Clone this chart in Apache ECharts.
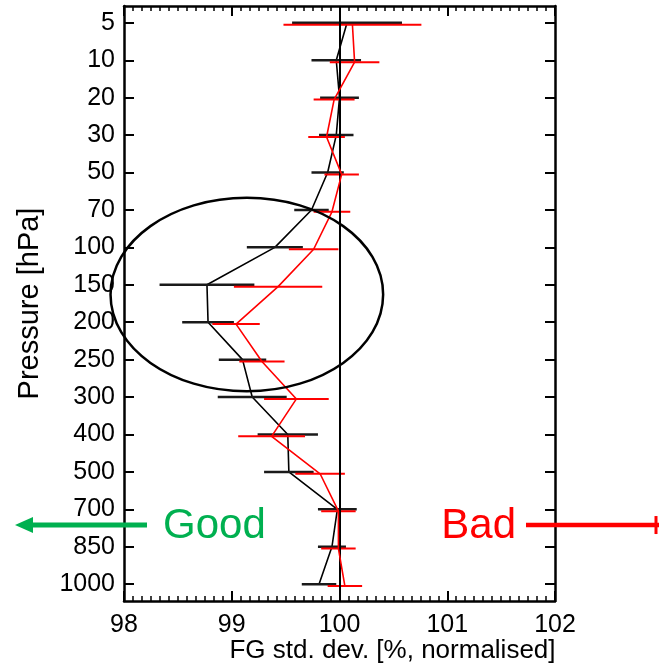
<!DOCTYPE html>
<html><head><meta charset="utf-8">
<script src="https://cdn.jsdelivr.net/npm/echarts@6/dist/echarts.min.js"></script>
<style>html,body{margin:0;padding:0;background:#fff}#c{width:659px;height:667px}</style>
</head><body><div id="c"></div>
<script>
// ---- data ----
const levels = ['5','10','20','30','50','70','100','150','200','250','300','400','500','700','850','1000'];
const blackMean = [100.07, 99.97, 100.00, 99.97, 99.89, 99.74, 99.40, 98.77, 98.78, 99.10, 99.19, 99.52, 99.53, 99.98, 99.93, 99.81];
const blackErr  = [0.51, 0.23, 0.18, 0.16, 0.15, 0.16, 0.26, 0.44, 0.24, 0.22, 0.32, 0.28, 0.23, 0.18, 0.13, 0.16];
const redMean   = [100.12, 100.14, 99.95, 99.88, 100.02, 99.93, 99.76, 99.43, 99.04, 99.28, 99.60, 99.37, 99.82, 99.99, 99.99, 100.05];
const redErr    = [0.64, 0.23, 0.19, 0.17, 0.16, 0.17, 0.23, 0.41, 0.22, 0.21, 0.30, 0.31, 0.23, 0.16, 0.16, 0.16];
const xTickLabels = [98, 99, 100, 101, 102];
const refValue = 100;
const redOffset = 0.05;
const xTitle = 'FG std. dev. [%, normalised]';
const yTitle = 'Pressure [hPa]';
const goodText = 'Good';
const badText = 'Bad';

const FONT = '"Liberation Sans", Arial, Helvetica, sans-serif';
const chart = echarts.init(document.getElementById('c'), null, {renderer: 'canvas'});

const idx = levels.map((_, i) => i);
function pts(mean, off) { return mean.map((v, i) => [v, i + off]); }
function bars(mean, err, off) { return mean.map((v, i) => [v - err[i], v + err[i], i + off]); }
function barRender(color, width) {
  return function (params, api) {
    const p1 = api.coord([api.value(0), api.value(2)]);
    const p2 = api.coord([api.value(1), api.value(2)]);
    return {type: 'line', shape: {x1: p1[0], y1: p1[1], x2: p2[0], y2: p2[1]},
            style: {stroke: color, lineWidth: width}};
  };
}

function yAx(pos, withLabels) {
  return {
    type: 'value', inverse: true, min: -0.45, max: 15.45, position: pos,
    axisLine: {show: true, onZero: false, lineStyle: {color: '#000', width: 2.5}},
    axisTick: {show: true, inside: true, length: 10, customValues: idx, lineStyle: {color: '#000', width: 2}},
    axisLabel: {show: withLabels, customValues: idx, formatter: v => levels[Math.round(v)],
                fontSize: 25, color: '#000', fontFamily: FONT, margin: 9},
    splitLine: {show: false},
    name: withLabels ? yTitle : '', nameLocation: 'middle', nameGap: 80,
    nameTextStyle: {fontSize: 29, color: '#000', fontFamily: FONT}
  };
}
function xAx(pos, withLabels) {
  return {
    type: 'value', min: 98, max: 102, interval: 1, position: pos,
    axisLine: {show: true, onZero: false, lineStyle: {color: '#000', width: 2.5}},
    axisTick: {show: true, inside: true, length: 10, lineStyle: {color: '#000', width: 2}},
    minorTick: {show: true, splitNumber: 12, length: 5, lineStyle: {color: '#000', width: 1.5}},
    axisLabel: {show: withLabels, fontSize: 25, color: '#000', fontFamily: FONT, margin: 12,
                showMinLabel: true, showMaxLabel: true,
                formatter: v => String(xTickLabels.find(t => Math.abs(t - v) < 1e-6) ?? '')},
    splitLine: {show: false},
    name: withLabels ? xTitle : '', nameLocation: 'middle', nameGap: 37, nameMoveOverlap: false,
    nameTextStyle: {fontSize: 26, color: '#000', fontFamily: FONT, padding: [0, 0, 0, 106]}
  };
}

chart.setOption({
  animation: false,
  backgroundColor: '#fff',
  grid: {left: 124, right: 104, top: 6, bottom: 66, containLabel: false, outerBoundsMode: 'none'},
  xAxis: [xAx('bottom', true), xAx('top', false)],
  yAxis: [yAx('left', true), yAx('right', false)],
  series: [
    {type: 'line', data: pts(blackMean, 0), symbol: 'none', z: 2,
     lineStyle: {color: '#000', width: 1.6},
     markLine: {silent: true, symbol: ['none', 'none'], label: {show: false},
                lineStyle: {color: '#000', type: 'solid', width: 2},
                data: [{xAxis: refValue}]}},
    {type: 'custom', data: bars(blackMean, blackErr, 0), renderItem: barRender('#1a1a1a', 2.5),
     encode: {x: [0, 1], y: 2}, z: 3},
    {type: 'custom', data: bars(redMean, redErr, redOffset), renderItem: barRender('#ff0000', 2),
     encode: {x: [0, 1], y: 2}, z: 4},
    {type: 'line', data: pts(redMean, redOffset), symbol: 'none', z: 5,
     lineStyle: {color: '#ff0000', width: 1.6}}
  ]
});

// annotation ellipse, defined in data space
const ellC = chart.convertToPixel({gridIndex: 0}, [99.14, 7.26]);
const ellE = chart.convertToPixel({gridIndex: 0}, [99.14 + 1.265, 7.26 + 2.585]);
const rx = Math.abs(ellE[0] - ellC[0]), ry = Math.abs(ellE[1] - ellC[1]);
const arrowY = chart.convertToPixel({gridIndex: 0}, [100, 13.42])[1];

chart.setOption({
  graphic: [
    {type: 'ellipse', shape: {cx: ellC[0], cy: ellC[1], rx: rx, ry: ry}, z: 100,
     style: {fill: 'none', stroke: '#000', lineWidth: 2.5}},
    {type: 'line', shape: {x1: 147, y1: arrowY, x2: 28, y2: arrowY}, z: 100,
     style: {stroke: '#00B050', lineWidth: 5}},
    {type: 'polygon', shape: {points: [[15, arrowY], [33, arrowY - 8], [33, arrowY + 8]]}, z: 100,
     style: {fill: '#00B050'}},
    {type: 'text', x: 163, y: arrowY + 1, z: 100,
     style: {text: goodText, fontSize: 42, fontFamily: FONT, fill: '#00B050', verticalAlign: 'middle', align: 'left'}},
    {type: 'line', shape: {x1: 526, y1: arrowY, x2: 659, y2: arrowY}, z: 100,
     style: {stroke: '#ff0000', lineWidth: 4.5}},
    {type: 'line', shape: {x1: 656, y1: arrowY - 9, x2: 656, y2: arrowY + 9}, z: 100,
     style: {stroke: '#ff0000', lineWidth: 3}},
    {type: 'text', x: 516, y: arrowY + 1, z: 100,
     style: {text: badText, fontSize: 42, fontFamily: FONT, fill: '#ff0000', verticalAlign: 'middle', align: 'right'}}
  ]
});
</script>
</body></html>
